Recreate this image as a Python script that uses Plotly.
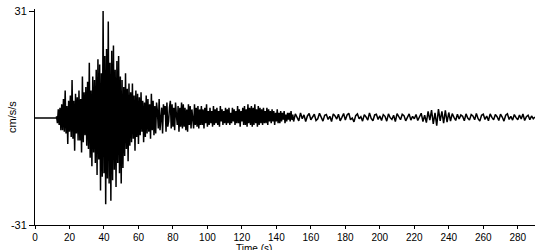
import plotly.graph_objects as go

# --- data (cm/s/s) ---
pre_t = [0.0, 12.5]
pre_v = [0.0, 0.0]

main_start = 12.5   # s
main_dt = 0.5       # s
main_v = [
    0.5, -1.5, 2.5, -2.0, 3.0, -3.5,
    4.0, -3.5, 5.5, -4.0, 8.0, -4.5, 3.5, -7.5, 5.0, -4.0,
    6.5, -5.5, 11.0, -6.0, 5.0, -9.5, 7.0, -4.5, 6.0, -6.5,
    8.0, -6.5, 5.5, -10.0, 12.0, -7.0, 7.5, -5.0, 9.0, -8.0,
    10.5, -9.0, 16.0, -11.5, 8.0, -14.0, 12.0, -10.0, 11.0, -13.0,
    14.0, -16.5, 17.0, -12.0, 15.5, -21.0, 13.0, -17.0, 31.0, -16.0,
    18.0, -25.0, 20.0, -17.5, 28.0, -19.0, 16.0, -24.0, 19.5, -18.0,
    21.0, -15.0, 14.0, -20.0, 16.5, -13.0, 18.0, -16.0, 12.0, -19.0,
    11.0, -14.5, 9.0, -11.0, 13.0, -9.0, 8.5, -12.5, 10.0, -8.0,
    7.5, -7.0, 10.0, -6.0, 6.5, -9.5, 8.0, -5.5, 7.0, -7.5,
    6.0, -5.0, 7.5, -4.0, 5.0, -7.0, 4.5, -5.5, 6.5, -4.5,
    5.5, -4.0, 4.0, -6.0, 7.0, -3.5, 5.0, -5.0, 3.5, -4.5,
    4.5, 2.0, -3.0, 5.5, -3.5, -1.0, 3.0, -4.5, 4.0, 1.0,
    3.5, -4.0, 4.5, -2.5, -1.0, 3.0, 5.0, -3.0, 4.0, -2.5,
    3.0, -3.5, 4.5, 1.0, -2.0, 3.5, -4.0, 3.0, -2.5, 4.5,
    -3.0, 4.0, -2.5, 3.0, -3.5, 2.5, -4.0, 4.0, -2.0, 3.5,
    -3.0, 2.5, 0.5, -3.0, 4.0, -2.0, 3.0, -2.5, 3.5, -3.0,
    2.5, -2.0, 3.5, -2.0, 2.5, -3.0, 3.0, -1.5, 4.0, -2.5,
    2.0, -2.0, 3.0, -1.5, 2.0, -2.5, 3.5, -2.0, 2.5, -1.5,
    3.0, -2.0, 2.0, -2.5, 3.5, -1.0, 2.5, -2.0, 2.0, -1.5,
    3.0, -2.0, 2.5, -1.5, 3.0, -2.0, 1.5, -1.5, 3.0, -1.0,
    2.5, -2.0, 2.0, -1.5, 3.5, -1.5, 2.5, -2.5, 2.0, -1.0,
    3.0, -2.0, 3.5, -2.0, 2.5, -2.5, 4.0, -1.5, 3.0, -2.0,
    3.5, -2.5, 3.0, -2.0, 4.0, -1.5, 2.5, -2.5, 3.5, -2.0,
    3.0, -1.5, 2.5, -2.0, 3.0, -1.5, 2.0, -1.5, 3.0, -2.0,
    2.5, -1.0, 2.0, -1.5, 2.5, -1.0, 2.0, -2.0, 1.5, -1.0,
    2.5, -1.5, 1.5, -1.5, 2.0, -1.0, 1.5, -0.5, 2.0, -1.5,
    1.0, -1.0, 1.5, -0.5, 1.5, -1.0, 2.0, -0.5, 1.0, -1.0,
]

tail_start = 151.0  # s
tail_dt = 1.0       # s
tail_v = [
    1.2, 0.4, -0.8, 1.5, -0.2, 0.9, -1.0, 0.6, 1.3, -0.5,
    0.2, 1.1, -0.7, -0.2, 1.4, 0.3, -0.9, 0.8, 1.0, -0.4,
    0.5, -1.0, 1.2, 0.6, -0.3, 1.1, -0.8, 0.2, 1.3, -0.6,
    0.9, 1.4, -0.5, 0.0, -1.1, 0.7, 1.2, -0.2, 0.4, -0.9,
    1.0, 0.3, -0.6, 1.5, -0.1, -0.8, 0.9, 1.1, -0.4, 0.6,
    -0.7, 1.0, 0.5, -0.9, 1.2, 0.1, -0.4, 0.8, -1.0, 1.3,
    0.2, -0.5, 1.1, 0.7, -0.8, 0.3, 1.2, -0.6, 0.5, -0.2,
    1.0, -0.7, 0.4, 1.4, -1.0, 0.8, -1.3, 1.9, -0.6, 2.3,
    -1.7, 1.5, -2.2, 2.6, -0.8, 1.9, -1.5, 2.2, -1.2, 1.6,
    -0.9, 1.3, 0.2, -0.7, 1.1, -0.3, 0.9, 0.5, -0.8, 1.2,
    0.0, -0.6, 1.0, 0.6, -0.5, 1.3, -0.2, -0.9, 0.8, 1.1,
    -0.4, 0.6, -0.8, 1.2, 0.2, -0.5, 1.0, 0.4, -0.7, 1.1,
    0.3, -0.9, 0.8, 1.2, -0.4, 0.5, -0.6, 1.0, 0.1, -0.5,
    0.9, -0.3, 1.2, -0.7, 0.4, 0.8, -0.5, 0.6, -0.2, 0.3,
]

x_ticks = [0, 20, 40, 60, 80, 100, 120, 140, 160, 180, 200, 220, 240, 260, 280]
y_ticks = [-31, 31]
y_title = "cm/s/s"
x_title = "Time (s)"

# --- assemble time series ---
main_t = [main_start + i * main_dt for i in range(len(main_v))]
tail_t = [tail_start + i * tail_dt for i in range(len(tail_v))]
t = pre_t + main_t + tail_t
v = pre_v + main_v + tail_v

family = "Liberation Sans, Arial, sans-serif"
font = dict(family=family, size=11, color="#000000")
xfont = dict(family=family, size=10, color="#000000")

fig = go.Figure()
fig.add_trace(go.Scatter(x=t, y=v, mode="lines",
                         line=dict(color="black", width=1.5),
                         hoverinfo="skip", showlegend=False))

fig.update_layout(
    width=550, height=250,
    margin=dict(l=35, r=15, t=5, b=25),
    paper_bgcolor="white", plot_bgcolor="white",
    font=font,
    showlegend=False,
    xaxis=dict(range=[0, 290], tickvals=x_ticks, ticktext=[str(x) for x in x_ticks],
               ticks="outside", ticklen=3, tickwidth=1, tickcolor="black",
               showline=True, linecolor="black", linewidth=1,
               showgrid=False, zeroline=False, tickfont=xfont),
    yaxis=dict(range=[-31, 31.6], tickvals=y_ticks, ticktext=[str(y) for y in y_ticks],
               ticks="outside", ticklen=5, tickwidth=1, tickcolor="black",
               showline=True, linecolor="black", linewidth=1,
               showgrid=False, zeroline=False, tickfont=font),
    annotations=[
        dict(text=x_title, xref="x", yref="paper", x=127, y=0,
             xanchor="center", yanchor="top", yshift=-16,
             showarrow=False, font=xfont),
        dict(text=y_title, xref="paper", yref="paper", x=0, y=0.5,
             xanchor="center", yanchor="middle", xshift=-23, textangle=-90,
             showarrow=False, font=font),
    ],
)

fig.write_html("out.html", config={"displayModeBar": False, "staticPlot": True})
